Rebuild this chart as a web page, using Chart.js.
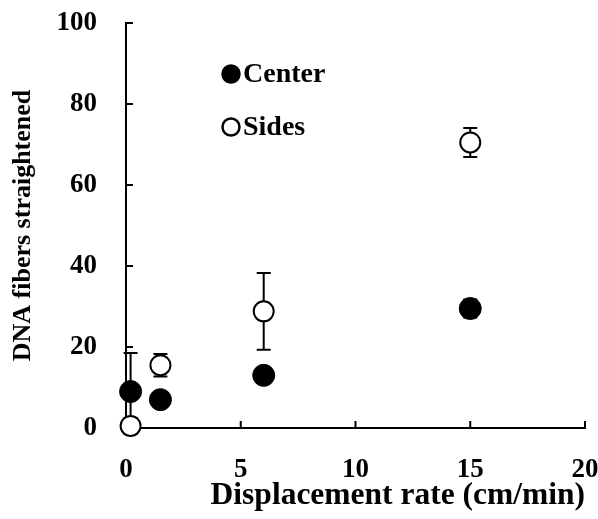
<!DOCTYPE html>
<html>
<head>
<meta charset="utf-8">
<script src="https://cdn.jsdelivr.net/npm/chart.js@4/dist/chart.umd.min.js"></script>
<style>
  html, body { margin: 0; padding: 0; background: #fff; }
  #wrap { width: 598px; height: 519px; }
</style>
</head>
<body>
<div id="wrap"><canvas id="chart"></canvas></div>
<script>
// values
const xTicks = [0, 5, 10, 15, 20];
const yTicks = [0, 20, 40, 60, 80, 100];

const centerX = [0.2, 1.5, 6, 15];
const centerY = [9, 7, 13, 29.5];
const centerErr = [9.5, 1.5, 1, 2.2];

const sidesX = [0.2, 1.5, 6, 15];
const sidesY = [0.5, 15.5, 28.8, 70.5];
const sidesErr = [2, 2.8, 9.5, 3.6];

const FONT = "'Liberation Serif', 'Times New Roman', serif";

function pts(xs, ys) {
  return xs.map((x, i) => ({ x: x, y: ys[i] }));
}

// inward ticks and vertical error bars, drawn under the markers
const underlay = {
  id: "underlay",
  beforeDatasetsDraw(chart) {
    const ctx = chart.ctx;
    const xs = chart.scales.x, ys = chart.scales.y;
    const a = chart.chartArea;
    ctx.save();
    ctx.strokeStyle = "#000";
    ctx.lineWidth = 2;

    ctx.beginPath();
    xTicks.slice(1).forEach(v => {
      const px = xs.getPixelForValue(v);
      ctx.moveTo(px, a.bottom); ctx.lineTo(px, a.bottom - 7);
    });
    yTicks.slice(1).forEach(v => {
      const py = ys.getPixelForValue(v);
      ctx.moveTo(a.left, py); ctx.lineTo(a.left + 7, py);
    });
    ctx.stroke();

    chart.data.datasets.forEach(ds => {
      ds.data.forEach((p, i) => {
        const e = ds.errors[i];
        const px = xs.getPixelForValue(p.x);
        const top = ys.getPixelForValue(p.y + e);
        const bot = ys.getPixelForValue(p.y - e);
        ctx.beginPath();
        ctx.moveTo(px, top); ctx.lineTo(px, bot);
        ctx.moveTo(px - 7, top); ctx.lineTo(px + 7, top);
        ctx.moveTo(px - 7, bot); ctx.lineTo(px + 7, bot);
        ctx.stroke();
      });
    });
    ctx.restore();
  }
};

// legend inside the plot
const legendBox = {
  id: "legendBox",
  afterDraw(chart) {
    const ctx = chart.ctx;
    const a = chart.chartArea;
    const items = [
      { label: "Center", fill: "#000", y: a.top + 51 },
      { label: "Sides", fill: "#fff", y: a.top + 104 }
    ];
    ctx.save();
    ctx.strokeStyle = "#000";
    ctx.font = "bold 28px " + FONT;
    ctx.textBaseline = "middle";
    items.forEach(it => {
      const cx = a.left + 105;
      ctx.beginPath();
      ctx.arc(cx, it.y, 8.5, 0, Math.PI * 2);
      ctx.fillStyle = it.fill;
      ctx.fill();
      ctx.lineWidth = 2.5;
      ctx.stroke();
      ctx.fillStyle = "#000";
      ctx.fillText(it.label, cx + 12, it.y + 1);
    });
    ctx.restore();
  }
};

new Chart(document.getElementById("chart").getContext("2d"), {
  type: "scatter",
  data: {
    datasets: [
      {
        label: "Sides",
        data: pts(sidesX, sidesY),
        errors: sidesErr,
        pointRadius: 10,
        pointBackgroundColor: "#fff",
        pointBorderColor: "#000",
        pointBorderWidth: 2,
        clip: false
      },
      {
        label: "Center",
        data: pts(centerX, centerY),
        errors: centerErr,
        pointRadius: 11,
        pointBackgroundColor: "#000",
        pointBorderColor: "#000",
        pointBorderWidth: 1,
        clip: false
      }
    ]
  },
  options: {
    responsive: true,
    maintainAspectRatio: false,
    animation: false,
    layout: { padding: { top: 23, right: 13, left: 0, bottom: 0 } },
    plugins: {
      legend: { display: false },
      tooltip: { enabled: false }
    },
    scales: {
      x: {
        type: "linear",
        min: 0,
        max: 20,
        afterFit: s => {
          s.height = 91;
          s.paddingLeft = 0; s.paddingRight = 0;
        },
        afterBuildTicks: s => { s.ticks = xTicks.map(v => ({ value: v })); },
        grid: { display: false },
        border: { display: true, color: "#000", width: 2 },
        ticks: {
          color: "#000",
          padding: 18,
          font: { family: FONT, size: 27, weight: "bold" }
        },
        title: {
          display: true,
          text: "Displacement rate (cm/min)",
          align: "end",
          color: "#000",
          padding: { top: 0, bottom: 4 },
          font: { family: FONT, size: 31.5, weight: "bold" }
        }
      },
      y: {
        type: "linear",
        min: 0,
        max: 100,
        afterFit: s => {
          s.width = 126;
          s.paddingTop = 0; s.paddingBottom = 0;
        },
        afterBuildTicks: s => { s.ticks = yTicks.map(v => ({ value: v })); },
        grid: { display: false },
        border: { display: true, color: "#000", width: 2 },
        ticks: {
          color: "#000",
          padding: 21,
          font: { family: FONT, size: 27, weight: "bold" }
        },
        title: {
          display: true,
          text: "DNA fibers straightened",
          color: "#000",
          padding: { top: 8, bottom: 0 },
          font: { family: FONT, size: 26, weight: "bold" }
        }
      }
    }
  },
  plugins: [underlay, legendBox]
});
</script>
</body>
</html>
